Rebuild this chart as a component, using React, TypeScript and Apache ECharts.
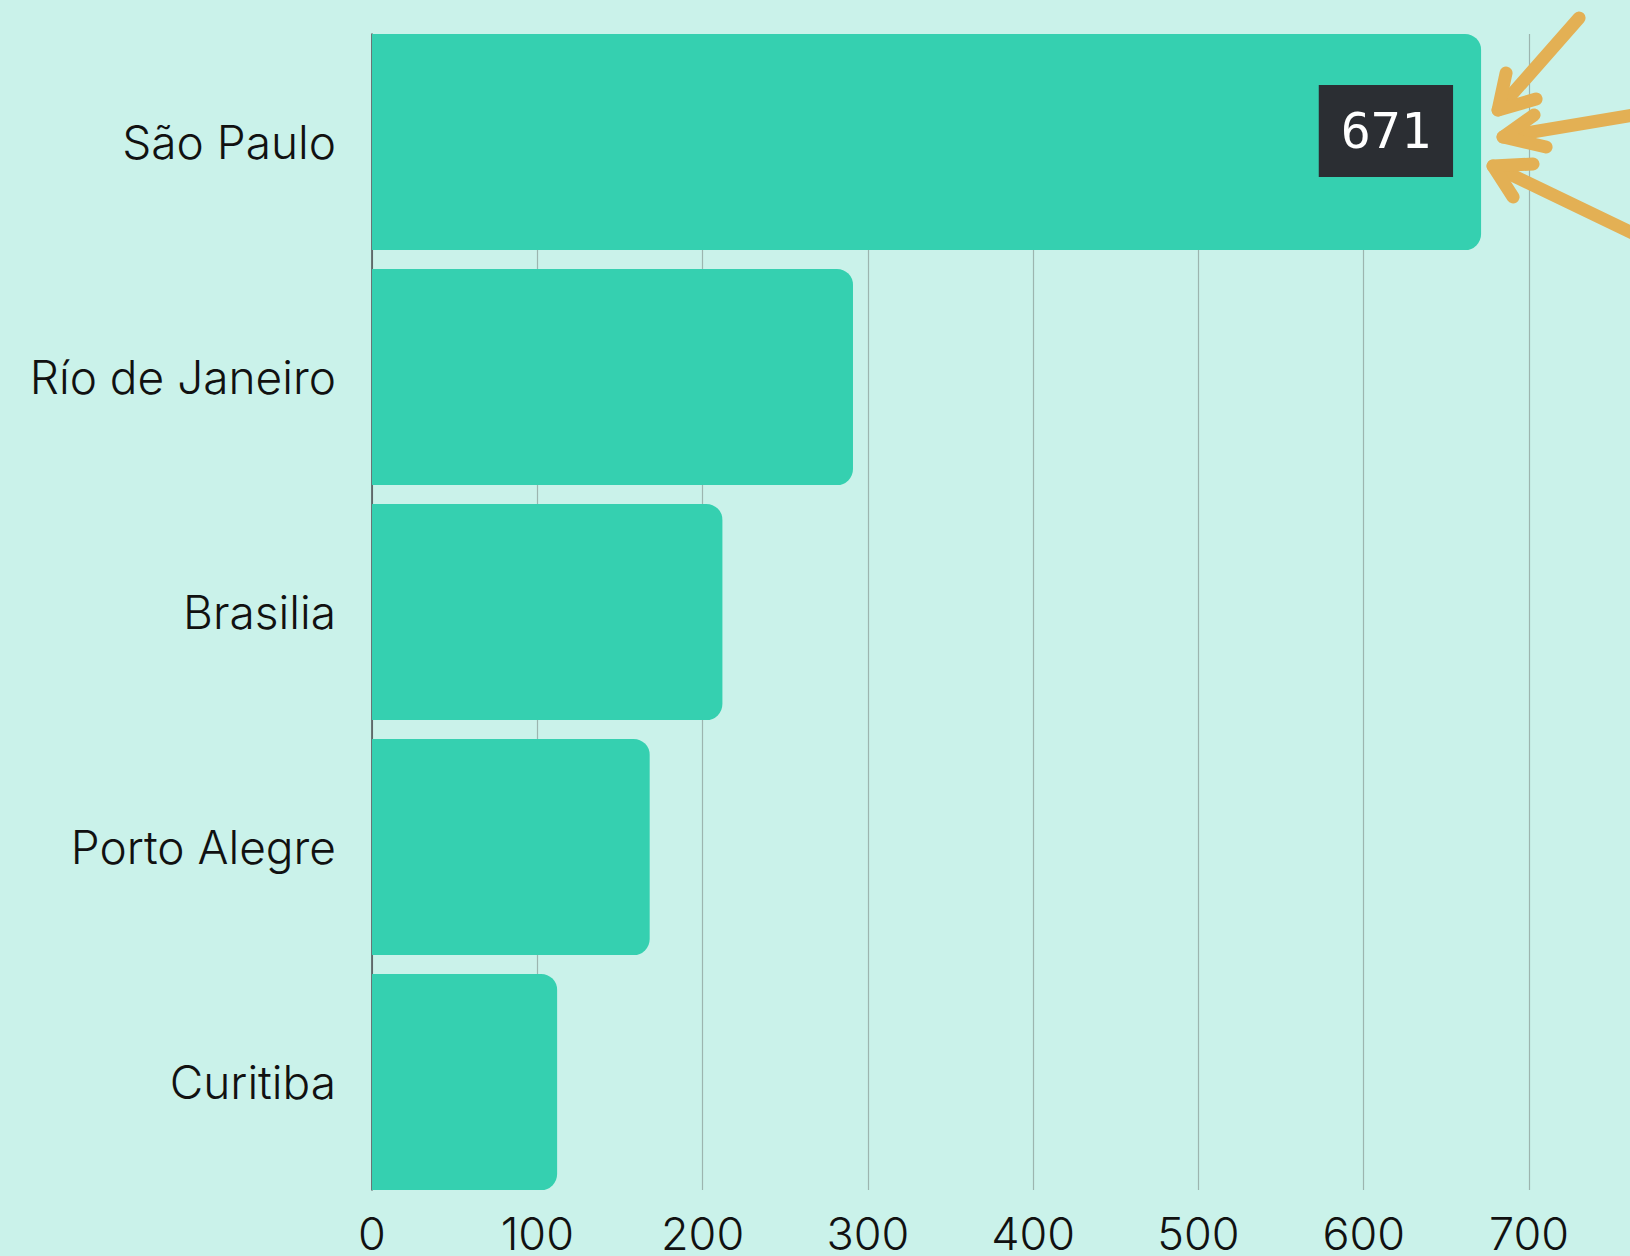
import React, { useEffect, useRef } from "react";
import * as echarts from "echarts";

const categories = ["São Paulo", "Río de Janeiro", "Brasilia", "Porto Alegre", "Curitiba"];
const values = [671, 291, 212, 168, 112];
const xMin = 0;
const xMax = 700;
const xInterval = 100;
const highlightIndex = 0;

const BG = "#caf2ea";
const BAR = "#35d0b0";
const ARROW = "#e3b054";
const FONT = "Inter, 'Noto Sans', sans-serif";
const MONO = "'DejaVu Sans Mono', 'Liberation Mono', monospace";

export default function App() {
  const ref = useRef<HTMLDivElement>(null);
  useEffect(() => {
    if (!ref.current) return;
    const chart = echarts.init(ref.current, undefined, { renderer: "svg" });
    const left = 372;
    const right = 101;
    chart.setOption({
      animation: false,
      backgroundColor: BG,
      grid: [
        { left, right, top: 34, height: 1156, containLabel: false },
        { left, right, top: 24.5, height: 1175, containLabel: false },
      ],
      xAxis: [
        {
          gridIndex: 0,
          type: "value",
          min: xMin,
          max: xMax,
          interval: xInterval,
          axisLabel: { show: false },
          axisLine: { show: false },
          axisTick: { show: false },
          splitLine: { show: true, lineStyle: { color: "#9cb5af", width: 1.2 } },
        },
        {
          gridIndex: 1,
          type: "value",
          min: xMin,
          max: xMax,
          interval: xInterval,
          axisLabel: { show: true, fontSize: 45, fontWeight: 300, color: "#111", fontFamily: FONT, margin: 11 },
          axisLine: { show: false },
          axisTick: { show: false },
          splitLine: { show: false },
        },
      ],
      yAxis: [
        {
          gridIndex: 0,
          type: "category",
          data: categories,
          inverse: true,
          axisLabel: { show: false },
          axisTick: { show: false },
          axisLine: { show: true, lineStyle: { color: "#4a4f52", width: 1.5 } },
          splitLine: { show: false },
        },
        {
          gridIndex: 1,
          type: "category",
          data: categories,
          inverse: true,
          axisLabel: {
            show: true,
            fontSize: 46,
            fontWeight: 300,
            color: "#111",
            fontFamily: FONT,
            margin: 36,
            padding: [0, 0, 16, 0],
          },
          axisTick: { show: false },
          axisLine: { show: false },
          splitLine: { show: false },
        },
      ],
      series: [
        {
          type: "bar",
          xAxisIndex: 1,
          yAxisIndex: 1,
          barCategoryGap: "8%",
          itemStyle: { color: BAR, borderRadius: [0, 16, 16, 0] },
          data: values.map((v, i) =>
            i === highlightIndex
              ? {
                  value: v,
                  label: {
                    show: true,
                    position: "insideRight",
                    distance: 28,
                    offset: [0, -11],
                    color: "#ffffff",
                    fontSize: 50,
                    fontFamily: MONO,
                    backgroundColor: "#2b2e33",
                    padding: [21, 22, 21, 22],
                  },
                }
              : v
          ),
        },
      ],
    });

    const end = chart.convertToPixel({ xAxisIndex: 1, yAxisIndex: 1 }, [
      values[highlightIndex],
      categories[highlightIndex],
    ]) as number[];
    const ex = end[0];
    const ey = end[1];
    const p = (dx: number, dy: number) => [ex + dx, ey + dy];
    const arrows = [
      { start: [98, -124], tip: [17, -32], h1: [25, -69], h2: [55, -43] },
      { start: [170, -30], tip: [22, -5], h1: [53, -27], h2: [65, 5] },
      { start: [170, 100], tip: [12, 24], h1: [52, 22], h2: [32, 55] },
    ];
    const style = {
      stroke: ARROW,
      lineWidth: 13,
      lineCap: "round",
      lineJoin: "round",
      fill: null,
    };
    const graphic: any[] = [];
    arrows.forEach((a) => {
      graphic.push({
        type: "polyline",
        shape: { points: [p(a.start[0], a.start[1]), p(a.tip[0], a.tip[1])] },
        style,
        z: 100,
      });
      graphic.push({
        type: "polyline",
        shape: { points: [p(a.h1[0], a.h1[1]), p(a.tip[0], a.tip[1]), p(a.h2[0], a.h2[1])] },
        style,
        z: 100,
      });
    });
    chart.setOption({ graphic });

    return () => chart.dispose();
  }, []);
  return (
    <div
      ref={ref}
      style={{ position: "fixed", left: 0, top: 0, width: 1630, height: 1256 }}
    />
  );
}
